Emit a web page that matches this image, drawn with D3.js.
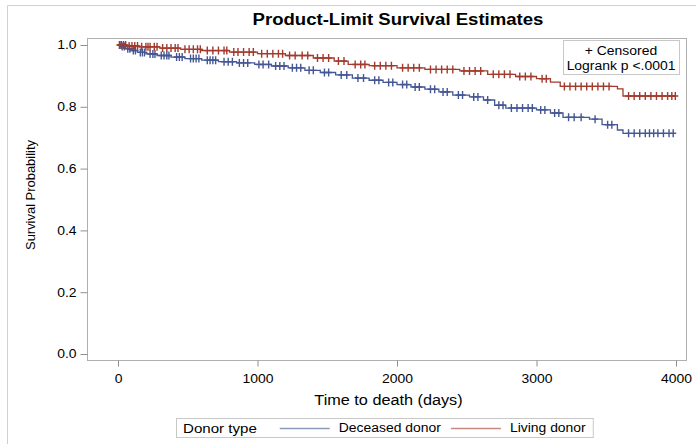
<!DOCTYPE html>
<html>
<head>
<meta charset="utf-8">
<script src="https://cdn.jsdelivr.net/npm/d3@7"></script>
<style>
  body { margin: 0; background: #fff; }
  svg text { font-family: "Liberation Sans", Arial, sans-serif; fill: #000; }
</style>
</head>
<body>
<div class="km-viz"></div>
<script>
// Kaplan-Meier step points: [time (days), survival after the step]
const deceasedSteps = [
  [0, 1.0], [20, 0.995], [50, 0.988], [90, 0.982], [140, 0.976], [200, 0.971],
  [280, 0.966], [380, 0.961], [480, 0.956], [600, 0.951], [720, 0.946], [850, 0.942],
  [980, 0.937], [1100, 0.932], [1220, 0.926], [1340, 0.918], [1450, 0.911], [1560, 0.903],
  [1680, 0.893], [1800, 0.886], [1900, 0.879], [2000, 0.872], [2100, 0.864], [2200, 0.857],
  [2300, 0.848], [2400, 0.838], [2520, 0.832], [2620, 0.822], [2700, 0.805], [2780, 0.796],
  [3000, 0.790], [3100, 0.780], [3190, 0.766], [3380, 0.760], [3470, 0.742], [3580, 0.725],
  [3620, 0.714]
];
const livingSteps = [
  [0, 1.0], [60, 0.997], [150, 0.994], [300, 0.990], [450, 0.986], [600, 0.982],
  [800, 0.977], [1000, 0.972], [1200, 0.966], [1400, 0.958], [1550, 0.948], [1650, 0.937],
  [1800, 0.933], [2000, 0.926], [2200, 0.921], [2450, 0.916], [2650, 0.905], [2850, 0.898],
  [3000, 0.891], [3100, 0.880], [3170, 0.866], [3580, 0.858], [3620, 0.835]
];
const lastTime = 4000;

// censored observation times
const deceasedCensor = [15, 30, 45, 70, 85, 110, 125, 160, 175, 190, 230, 250, 265, 310, 330,
  350, 365, 420, 440, 460, 520, 540, 560, 580, 640, 660, 680, 700, 760, 790, 820, 870, 900,
  930, 1010, 1040, 1080, 1130, 1160, 1190, 1250, 1280, 1310, 1370, 1400, 1480, 1510, 1600,
  1640, 1720, 1760, 1840, 1870, 1940, 1970, 2040, 2070, 2130, 2160, 2240, 2270, 2330, 2360,
  2440, 2470, 2550, 2580, 2650, 2730, 2760, 2820, 2860, 2900, 2940, 2970, 3030, 3060, 3130,
  3160, 3230, 3270, 3320, 3420, 3510, 3540, 3660, 3700, 3740, 3780, 3810, 3840, 3870, 3910,
  3950, 3980];
const livingCensor = [10, 25, 40, 55, 80, 100, 120, 140, 170, 200, 215, 230, 260, 280, 320,
  350, 380, 410, 430, 480, 510, 540, 570, 590, 640, 680, 720, 760, 780, 830, 860, 900, 940,
  970, 1030, 1070, 1110, 1150, 1180, 1230, 1270, 1320, 1360, 1430, 1470, 1510, 1580, 1620,
  1700, 1740, 1770, 1840, 1880, 1920, 1960, 2040, 2080, 2120, 2160, 2240, 2280, 2320, 2360,
  2400, 2480, 2520, 2560, 2600, 2690, 2730, 2770, 2810, 2880, 2920, 2960, 3040, 3070, 3200,
  3240, 3280, 3320, 3360, 3400, 3440, 3480, 3520, 3660, 3700, 3740, 3780, 3820, 3860, 3900,
  3940, 3970, 3995];

const groups = ["Deceased donor", "Living donor"];
const xTicks = [0, 1000, 2000, 3000, 4000];
const yTicks = [0.0, 0.2, 0.4, 0.6, 0.8, 1.0];

const colors = ["#445694", "#A23A2E"];

const W = 696, H = 444;
const frame = { left: 87, right: 686, top: 38, bottom: 360 };
const stretch = 1.16; // the picture's text is a bit wider than plain Arial

const svg = d3.select(".km-viz")
  .append("svg")
  .attr("width", W)
  .attr("height", H);

function widen(sel) {
  sel.each(function () {
    const len = this.getComputedTextLength();
    d3.select(this)
      .attr("textLength", len * stretch)
      .attr("lengthAdjust", "spacingAndGlyphs");
  });
  return sel;
}

// outer border of the graph
svg.append("path")
  .attr("d", `M7.5,${H}V5.5H${W}`)
  .attr("fill", "none")
  .attr("stroke", "#d0d0d0");

const x = d3.scaleLinear().domain([0, 4000]).range([118, 676]);
const y = d3.scaleLinear().domain([0, 1]).range([354, 45]);

// plot frame
svg.append("rect")
  .attr("x", frame.left + 0.5)
  .attr("y", frame.top + 0.5)
  .attr("width", frame.right - frame.left)
  .attr("height", frame.bottom - frame.top)
  .attr("fill", "none")
  .attr("stroke", "#b0b0b0");

// Y axis
const yAxis = svg.append("g")
  .attr("transform", `translate(${frame.left + 0.5},0)`)
  .call(d3.axisLeft(y).tickValues(yTicks).tickFormat(d3.format(".1f")).tickSize(7).tickPadding(4));
yAxis.select(".domain").remove();
yAxis.selectAll("line").attr("stroke", "#909090");
yAxis.selectAll("text").attr("font-size", 12).attr("font-family", "Liberation Sans").call(widen);

// X axis
const xAxis = svg.append("g")
  .attr("transform", `translate(0,${frame.bottom + 0.5})`)
  .call(d3.axisBottom(x).tickValues(xTicks).tickFormat(d3.format("d")).tickSize(6).tickPadding(8));
xAxis.select(".domain").remove();
xAxis.selectAll("line").attr("stroke", "#909090");
xAxis.selectAll("text").attr("font-size", 12).attr("font-family", "Liberation Sans").call(widen);

// Title
svg.append("text")
  .attr("x", 398)
  .attr("y", 25)
  .attr("text-anchor", "middle")
  .attr("font-size", 16)
  .attr("font-weight", "bold")
  .text("Product-Limit Survival Estimates")
  .call(widen);

// axis titles
svg.append("text")
  .attr("x", (frame.left + frame.right) / 2 + 2)
  .attr("y", 405)
  .attr("text-anchor", "middle")
  .attr("font-size", 14)
  .text("Time to death (days)")
  .call(widen);

svg.append("text")
  .attr("transform", `translate(35,${(frame.top + frame.bottom) / 2 - 4}) rotate(-90)`)
  .attr("text-anchor", "middle")
  .attr("font-size", 13)
  .attr("textLength", 110)
  .attr("lengthAdjust", "spacingAndGlyphs")
  .text("Survival Probability");

// survival value at time t
function survAt(steps, t) {
  let s = 1;
  for (const st of steps) { if (st[0] <= t) s = st[1]; }
  return s;
}

const stepLine = d3.line().x(d => x(d[0])).y(d => y(d[1])).curve(d3.curveStepAfter);

const defs = svg.append("defs");
defs.append("filter").attr("id", "soft")
  .append("feGaussianBlur").attr("stdDeviation", 0.45);

const series = [
  { steps: deceasedSteps, censor: deceasedCensor, color: colors[0] },
  { steps: livingSteps, censor: livingCensor, color: colors[1] }
];

const curves = svg.append("g").attr("filter", "url(#soft)");

series.forEach(s => {
  const pts = s.steps.concat([[lastTime, s.steps[s.steps.length - 1][1]]]);
  curves.append("path")
    .datum(pts)
    .attr("d", stepLine)
    .attr("fill", "none")
    .attr("stroke", s.color)
    .attr("stroke-width", 1.3);

  curves.selectAll(null)
    .data(s.censor)
    .enter()
    .append("path")
    .attr("transform", d => `translate(${x(d)},${y(survAt(s.steps, d))})`)
    .attr("d", "M-3,0H3M0,-4V4")
    .attr("stroke", s.color)
    .attr("stroke-width", 1.4)
    .attr("fill", "none");
});

// inset legend
svg.append("rect")
  .attr("x", 563.5).attr("y", 40.5)
  .attr("width", 116).attr("height", 34)
  .attr("fill", "#fff")
  .attr("stroke", "#c8c8c8");
svg.append("text")
  .attr("x", 621).attr("y", 55)
  .attr("text-anchor", "middle")
  .attr("font-size", 12)
  .text("+ Censored")
  .call(widen);
svg.append("text")
  .attr("x", 621).attr("y", 70)
  .attr("text-anchor", "middle")
  .attr("font-size", 12)
  .text("Logrank p <.0001")
  .call(widen);

// bottom legend
const leg = svg.append("g");
const legBox = leg.append("rect")
  .attr("y", 418.5).attr("height", 19)
  .attr("fill", "#fff")
  .attr("stroke", "#c8c8c8");
let cx = 183;
const lt = leg.append("text")
  .attr("x", cx).attr("y", 433)
  .attr("font-size", 13)
  .text("Donor type")
  .call(widen);
cx += lt.node().getComputedTextLength() + 23;
groups.forEach((g, i) => {
  leg.append("line")
    .attr("x1", cx).attr("x2", cx + 50)
    .attr("y1", 428.5).attr("y2", 428.5)
    .attr("stroke", colors[i])
    .attr("stroke-opacity", 0.6)
    .attr("stroke-width", 1.5);
  cx += 59;
  const t = leg.append("text")
    .attr("x", cx).attr("y", 432)
    .attr("font-size", 12)
    .text(g)
    .call(widen);
  cx += t.node().getComputedTextLength() + 10;
});
legBox.attr("x", 176.5).attr("width", cx - 176 - 3);
</script>
</body>
</html>
